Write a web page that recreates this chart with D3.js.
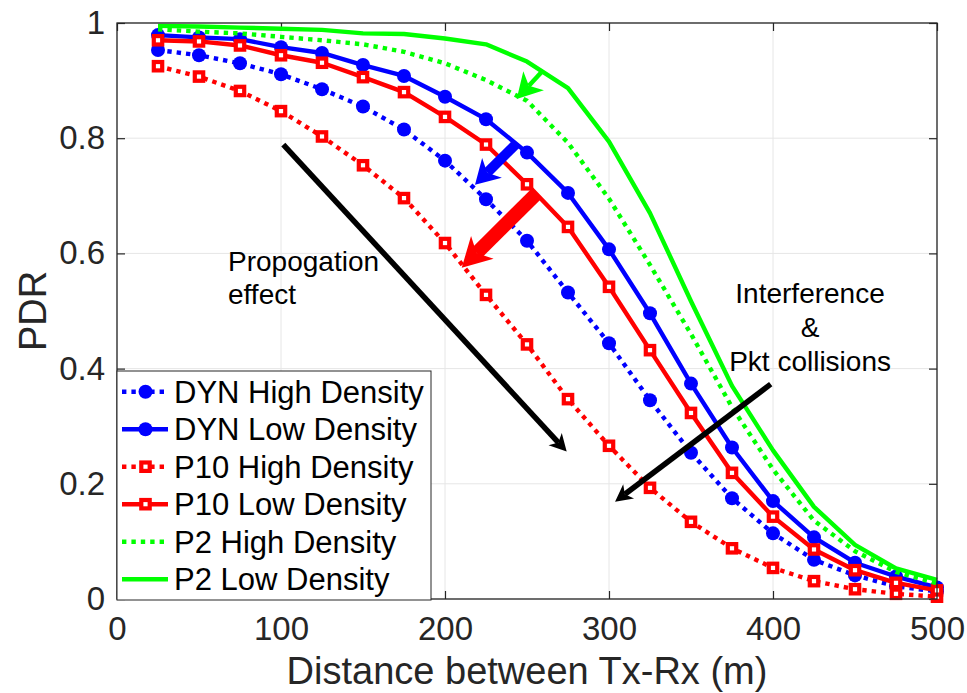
<!DOCTYPE html>
<html>
<head>
<meta charset="utf-8">
<script src="https://cdn.jsdelivr.net/npm/d3@7"></script>
<style>
  html, body { margin: 0; padding: 0; background: #fff; }
  svg { display: block; font-family: "Liberation Sans", Arial, Helvetica, sans-serif; }
</style>
</head>
<body>
<svg id="chart" width="967" height="693"></svg>
<script>
// ---------------- data ----------------
const distance = [25, 50, 75, 100, 125, 150, 175, 200, 225, 250, 275, 300, 325, 350, 375, 400, 425, 450, 475, 500];
const dynHigh = [0.953, 0.944, 0.930, 0.911, 0.885, 0.855, 0.815, 0.761, 0.694, 0.622, 0.532, 0.444, 0.345, 0.254, 0.175, 0.114, 0.068, 0.041, 0.022, 0.013];
const dynLow  = [0.979, 0.975, 0.972, 0.958, 0.948, 0.927, 0.908, 0.872, 0.833, 0.775, 0.705, 0.607, 0.496, 0.374, 0.263, 0.170, 0.107, 0.063, 0.039, 0.020];
const p10High = [0.925, 0.907, 0.882, 0.847, 0.803, 0.753, 0.696, 0.618, 0.528, 0.442, 0.347, 0.266, 0.193, 0.134, 0.088, 0.054, 0.031, 0.017, 0.009, 0.004];
const p10Low  = [0.970, 0.968, 0.961, 0.944, 0.931, 0.906, 0.880, 0.837, 0.789, 0.720, 0.646, 0.542, 0.432, 0.323, 0.219, 0.143, 0.086, 0.050, 0.028, 0.015];
const p2High  = [0.989, 0.985, 0.982, 0.976, 0.970, 0.963, 0.950, 0.930, 0.901, 0.865, 0.792, 0.695, 0.580, 0.460, 0.333, 0.225, 0.136, 0.083, 0.047, 0.027];
const p2Low   = [0.995, 0.994, 0.992, 0.990, 0.988, 0.982, 0.981, 0.973, 0.963, 0.933, 0.887, 0.794, 0.670, 0.517, 0.370, 0.258, 0.160, 0.094, 0.053, 0.033];

const seriesNames = ["DYN High Density", "DYN Low Density", "P10 High Density", "P10 Low Density", "P2 High Density", "P2 Low Density"];
const seriesValues = [dynHigh, dynLow, p10High, p10Low, p2High, p2Low];
const seriesColors = ["#0000ff", "#0000ff", "#ff0000", "#ff0000", "#00ff00", "#00ff00"];
const seriesDotted = [true, false, true, false, true, false];
const seriesMarker = ["circle", "circle", "square", "square", "none", "none"];

const xTicks = [0, 100, 200, 300, 400, 500];
const yTicks = [0, 0.2, 0.4, 0.6, 0.8, 1];
const xLabel = "Distance between Tx-Rx (m)";
const yLabel = "PDR";

// annotation arrows (data units): [x0, y0, x1, y1]
const arrowEnds = [
  [259.9, 0.918, 243.7, 0.868],
  [243.7, 0.791, 218.3, 0.719],
  [255.9, 0.704, 210.2, 0.575],
  [101.4, 0.789, 274.2, 0.256],
  [398.6, 0.373, 303.7, 0.169]
];
const arrowColors = ["#00ff00", "#0000ff", "#ff0000", "#000000", "#000000"];
const arrowShaft = [4.5, 10, 14, 5.5, 5.5];
const arrowHeadLen = [25, 24, 29, 17, 17];
const arrowHeadHalf = [14, 14, 16, 9, 9];

const noteLines1 = ["Propogation", "effect"];
const noteLines2 = ["Interference", "&", "Pkt collisions"];

// ---------------- chart ----------------
const svg = d3.select("#chart");
const L = 117, R = 937, T = 23, B = 599;
const x = d3.scaleLinear().domain([0, 500]).range([L, R]);
const y = d3.scaleLinear().domain([0, 1]).range([B, T]);
const axisColor = "#262626";

// grid
const grid = svg.append("g");
grid.selectAll("line.gx").data(xTicks).join("line")
  .attr("x1", d => x(d)).attr("x2", d => x(d)).attr("y1", T).attr("y2", B)
  .attr("stroke", "#e6e6e6").attr("stroke-width", 1);
grid.selectAll("line.gy").data(yTicks).join("line")
  .attr("y1", d => y(d)).attr("y2", d => y(d)).attr("x1", L).attr("x2", R)
  .attr("stroke", "#e6e6e6").attr("stroke-width", 1);

// axes using d3 axis generators (ticks inside)
const tickLen = 8;
const fmtY = d => (d === 0 ? "0" : d === 1 ? "1" : d3.format(".1f")(d));
const axB = svg.append("g").attr("transform", `translate(0,${B})`)
  .call(d3.axisBottom(x).tickValues(xTicks).tickSizeInner(-tickLen).tickSizeOuter(0).tickPadding(18).tickFormat(d3.format("d")));
const axL = svg.append("g").attr("transform", `translate(${L},0)`)
  .call(d3.axisLeft(y).tickValues(yTicks).tickSizeInner(-tickLen).tickSizeOuter(0).tickPadding(12).tickFormat(fmtY));
const axT = svg.append("g").attr("transform", `translate(0,${T})`)
  .call(d3.axisTop(x).tickValues(xTicks).tickSizeInner(-tickLen).tickSizeOuter(0).tickFormat(""));
const axR = svg.append("g").attr("transform", `translate(${R},0)`)
  .call(d3.axisRight(y).tickValues(yTicks).tickSizeInner(-tickLen).tickSizeOuter(0).tickFormat(""));
[axB, axL, axT, axR].forEach(g => {
  g.select(".domain").remove();
  g.selectAll(".tick line").attr("stroke", axisColor).attr("stroke-width", 1.2);
  g.selectAll(".tick text").attr("fill", axisColor).attr("font-size", 33)
    .attr("font-family", "'Liberation Sans', Arial, Helvetica, sans-serif");
});
axB.selectAll(".tick text").attr("dy", "0.71em");

// series
const lineGen = d3.line().x((d, i) => x(distance[i])).y(d => y(d));
const plot = svg.append("g");
seriesValues.forEach((vals, s) => {
  plot.append("path").datum(vals)
    .attr("d", lineGen)
    .attr("fill", "none")
    .attr("stroke", seriesColors[s])
    .attr("stroke-width", 4.4)
    .attr("stroke-linejoin", "round")
    .attr("stroke-dasharray", seriesDotted[s] ? "4.4 5" : null);
  if (seriesMarker[s] === "circle") {
    plot.append("g").selectAll("circle").data(vals).join("circle")
      .attr("cx", (d, i) => x(distance[i])).attr("cy", d => y(d)).attr("r", 7)
      .attr("fill", seriesColors[s]);
  } else if (seriesMarker[s] === "square") {
    plot.append("g").selectAll("rect").data(vals).join("rect")
      .attr("x", (d, i) => x(distance[i]) - 4.2).attr("y", d => y(d) - 4.2)
      .attr("width", 8.4).attr("height", 8.4)
      .attr("fill", "#fff").attr("stroke", seriesColors[s]).attr("stroke-width", 4.2);
  }
});

// box
svg.append("rect").attr("x", L).attr("y", T).attr("width", R - L).attr("height", B - T)
  .attr("fill", "none").attr("stroke", axisColor).attr("stroke-width", 1.3);

// arrows
const arrows = svg.append("g");
arrowEnds.forEach((a, k) => {
  const x0 = x(a[0]), y0 = y(a[1]), x1 = x(a[2]), y1 = y(a[3]);
  const dx = x1 - x0, dy = y1 - y0, len = Math.hypot(dx, dy);
  const ux = dx / len, uy = dy / len, px = -uy, py = ux;
  const hl = arrowHeadLen[k], hw = arrowHeadHalf[k];
  const bx = x1 - ux * hl, by = y1 - uy * hl;
  const nx = x1 - ux * hl * 0.72, ny = y1 - uy * hl * 0.72;
  arrows.append("line")
    .attr("x1", x0).attr("y1", y0).attr("x2", nx).attr("y2", ny)
    .attr("stroke", arrowColors[k]).attr("stroke-width", arrowShaft[k]);
  arrows.append("polygon")
    .attr("points", [[x1, y1], [bx + px * hw, by + py * hw], [nx, ny], [bx - px * hw, by - py * hw]].map(p => p.join(",")).join(" "))
    .attr("fill", arrowColors[k]);
});

// annotation texts
const notes = svg.append("g").attr("fill", "#000").attr("font-size", 28);
notes.selectAll("text.n1").data(noteLines1).join("text")
  .attr("x", x(67.7)).attr("y", (d, i) => y(0.569) + i * 33)
  .text(d => d);
notes.selectAll("text.n2").data(noteLines2).join("text")
  .attr("x", x(422.6)).attr("y", (d, i) => y(0.514) + i * 34)
  .attr("text-anchor", "middle")
  .text(d => d);

// legend
const lg = svg.append("g");
const lgX = L, lgY = 371, lgW = 314, lgH = 229, rowH = 37.5;
lg.append("rect").attr("x", lgX).attr("y", lgY).attr("width", lgW).attr("height", lgH)
  .attr("fill", "#fff").attr("stroke", axisColor).attr("stroke-width", 1);
seriesNames.forEach((name, s) => {
  const cy = lgY + 20.7 + s * rowH;
  lg.append("line").attr("x1", lgX + 5).attr("x2", lgX + 51).attr("y1", cy).attr("y2", cy)
    .attr("stroke", seriesColors[s]).attr("stroke-width", 4.4)
    .attr("stroke-dasharray", seriesDotted[s] ? "4.4 5" : null);
  if (seriesMarker[s] === "circle") {
    lg.append("circle").attr("cx", lgX + 28.5).attr("cy", cy).attr("r", 7).attr("fill", seriesColors[s]);
  } else if (seriesMarker[s] === "square") {
    lg.append("rect").attr("x", lgX + 24.3).attr("y", cy - 4.2).attr("width", 8.4).attr("height", 8.4)
      .attr("fill", "#fff").attr("stroke", seriesColors[s]).attr("stroke-width", 4.2);
  }
  lg.append("text").attr("x", lgX + 57).attr("y", cy).attr("dy", "0.36em")
    .attr("font-size", 31).attr("fill", "#000").text(name);
});

// axis labels
svg.append("text").attr("x", (L + R) / 2).attr("y", 684).attr("text-anchor", "middle")
  .attr("font-size", 38).attr("fill", axisColor).text(xLabel);
svg.append("text").attr("transform", `translate(46,${(T + B) / 2}) rotate(-90)`)
  .attr("text-anchor", "middle").attr("font-size", 38).attr("fill", axisColor).text(yLabel);
</script>
</body>
</html>
